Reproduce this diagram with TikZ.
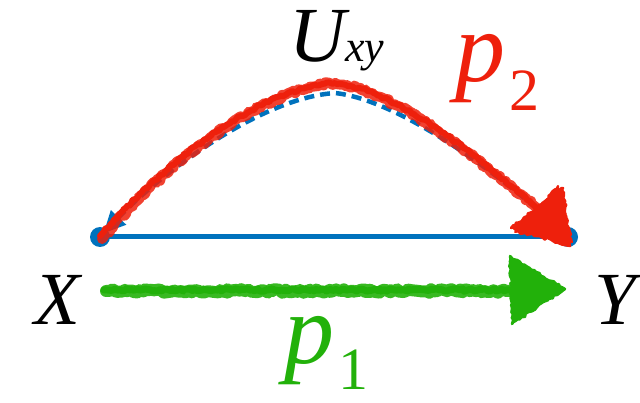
\documentclass[tikz,border=0pt]{standalone}
\usepackage{fontspec}
\setmainfont{Liberation Serif}
\usetikzlibrary{arrows.meta,decorations.pathmorphing}
\definecolor{bl}{RGB}{0,114,189}
\definecolor{rd}{RGB}{238,32,12}
\definecolor{gr}{RGB}{34,177,10}
\begin{document}
\begin{tikzpicture}[x=1pt,y=-1pt,
  crayon/.style={decorate,decoration={random steps,segment length=2.5pt,amplitude=1.3pt,pre length=3pt,post length=6pt},line cap=round,line join=round},
  lbl/.style={inner sep=0pt,outer sep=0pt},
  dot/.style={circle,fill=bl,inner sep=0pt,minimum size=20pt}]
\useasboundingbox (0,0) rectangle (640,403);
% end points
\node[dot] (x) at (100,237) {};
\node[dot] (y) at (568,237) {};
\coordinate (ub) at (335,93);
\coordinate (ur) at (335,83);
\coordinate (rh) at (537,208);
% labels
\node[lbl,anchor=base] (X) at (57,325) {\fontsize{75}{75}\selectfont\itshape X};
\node[lbl,anchor=base] (Y) at (615,325) {\fontsize{75}{75}\selectfont\itshape Y};
\node[lbl,anchor=base west] (U) at (289,62) {\fontsize{78}{78}\selectfont\itshape U\fontsize{44}{44}\selectfont xy};
\node[lbl,anchor=base west,text=rd] (p2) at (455,82) {\fontsize{100}{100}\selectfont\itshape p\upshape\kern4pt\fontsize{60}{60}\selectfont\raisebox{-29pt}{2}};
\node[lbl,anchor=base west,text=gr] (p1) at (284,363) {\fontsize{100}{100}\selectfont\itshape p\upshape\kern4pt\fontsize{60}{60}\selectfont\raisebox{-26pt}{1}};
% blue directed edge
\draw[bl,line width=5pt] (x.center) -- (y.center);
% blue dashed bidirected arc
\draw[bl,line width=4.5pt,dash pattern=on 10pt off 6pt,
  {Triangle[length=22pt,width=20pt]}-{Triangle[length=22pt,width=20pt]},shorten <=5pt,shorten >=5pt]
  (x.center) .. controls (156,178) and (258,98) .. (ub) .. controls (400,100) and (500,175) .. (y.center);
% red crayon arc p2
\draw[rd,line width=10pt,crayon,opacity=0.85,decoration={amplitude=1.8pt}] (102,239) .. controls (162,166) and (262,88) .. (ur) .. controls (400,91) and (490,170) .. (rh);
\draw[rd,line width=6pt,crayon] (100,236) .. controls (162,164) and (262,86) .. (ur) .. controls (400,89) and (490,168) .. (rh);
\draw[rd,line width=2.5pt,crayon,fill=rd] (570,246) -- (563,188) -- (511,228) -- cycle;
\draw[rd,line width=2pt,crayon,fill=rd] (572,242) -- (558,186) -- (515,232) -- cycle;
% green crayon arrow p1
\draw[gr,line width=12pt,crayon,opacity=0.9,decoration={amplitude=1.8pt}] (106,291) -- (512,291);
\draw[gr,line width=7pt,crayon] (104,290) -- (512,290);
\draw[gr,line width=2.5pt,crayon,fill=gr] (565,289) -- (510,256) -- (512,324) -- cycle;
\end{tikzpicture}
\end{document}
